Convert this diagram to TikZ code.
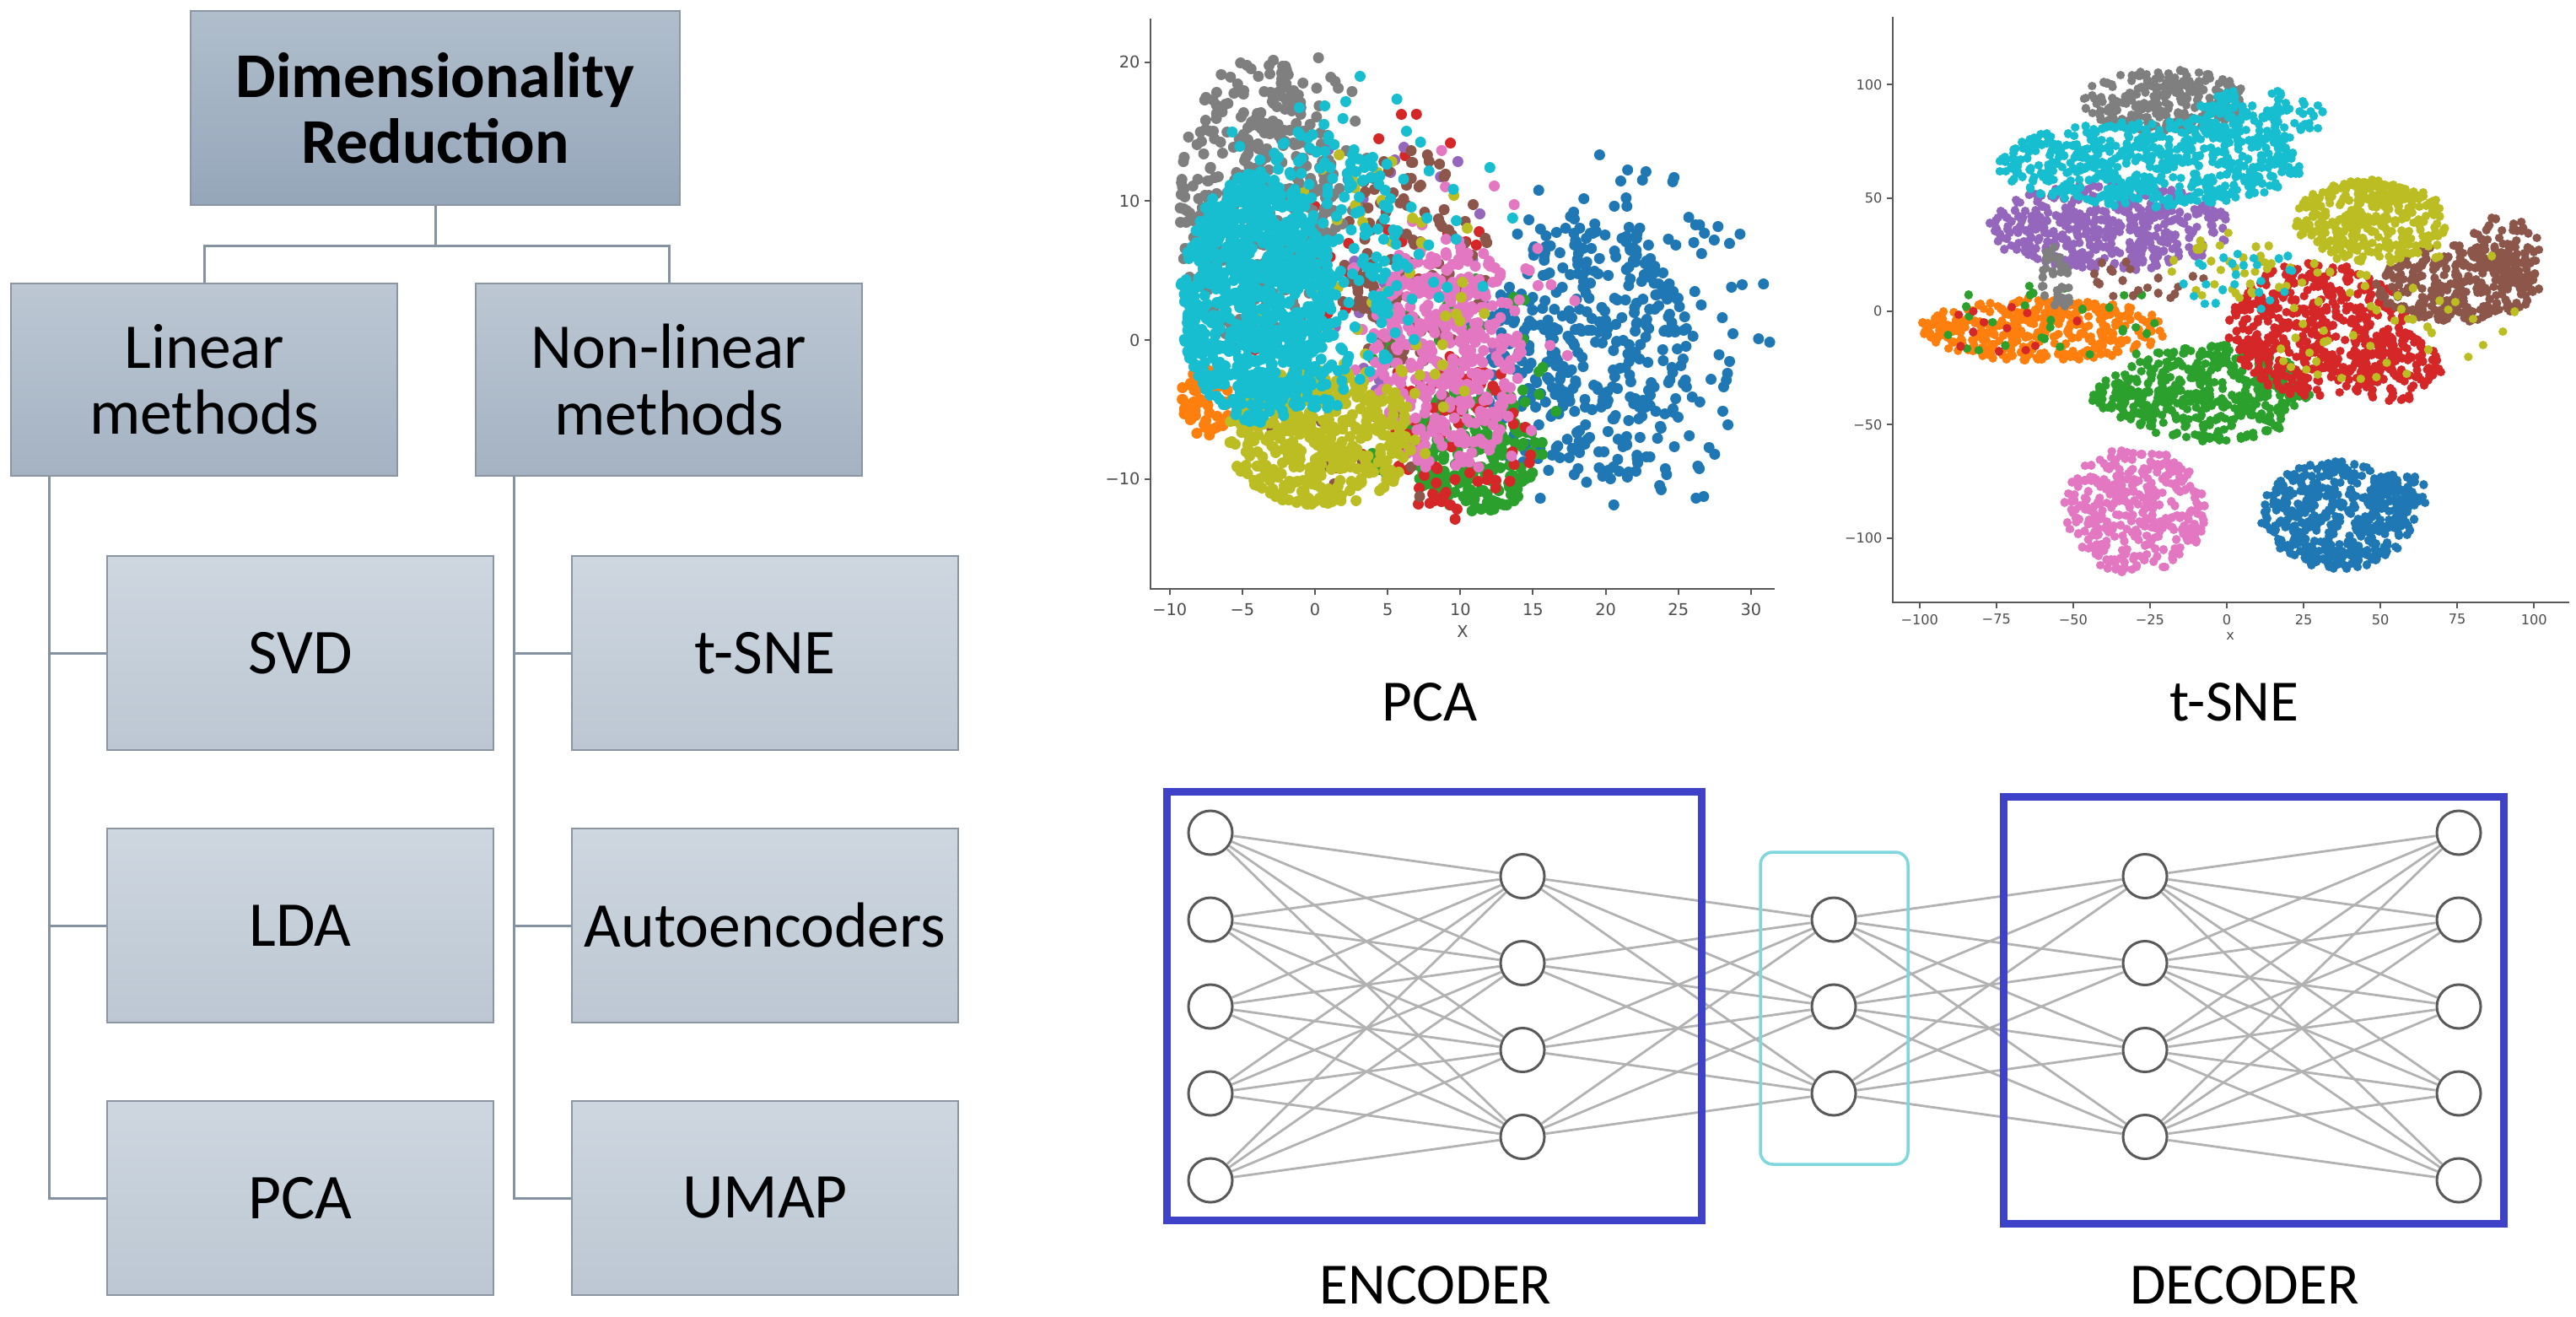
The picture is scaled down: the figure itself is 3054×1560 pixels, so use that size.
\documentclass[tikz,border=0pt]{standalone}
\usepackage{fontspec}
\setmainfont{Carlito}
\newfontfamily\plotfont{DejaVu Sans}
\usepackage{tikz}
\usetikzlibrary{calc}

\definecolor{tabblue}{HTML}{1F77B4}
\definecolor{taborange}{HTML}{FF7F0E}
\definecolor{tabgreen}{HTML}{2CA02C}
\definecolor{tabred}{HTML}{D62728}
\definecolor{tabpurple}{HTML}{9467BD}
\definecolor{tabbrown}{HTML}{8C564B}
\definecolor{tabpink}{HTML}{E377C2}
\definecolor{tabgray}{HTML}{7F7F7F}
\definecolor{tabolive}{HTML}{BCBD22}
\definecolor{tabcyan}{HTML}{17BECF}
\definecolor{boxline}{RGB}{140,150,162}
\definecolor{branchline}{RGB}{132,146,162}
\definecolor{codeblue}{RGB}{62,66,200}
\definecolor{latentcyan}{RGB}{126,214,222}

\newcommand{\treefont}{\fontsize{21.5}{22.2}\selectfont}
% n dots spread over an ellipse: n, cx, cy, rx, ry, colour, dot diameter
\newcommand{\scatterblob}[7]{%
  \draw[#6, line width=#7, line cap=round]
    \foreach \k [evaluate=\k as \pa using 360*rnd, evaluate=\k as \pr using sqrt(rnd)] in {1,...,#1}
      { ({#2+#4*\pr*cos(\pa)},{#3+#5*\pr*sin(\pa)}) -- ++(0.001,0) };}

\tikzset{topbox/.style = {draw=boxline, line width=0.02cm, top color={rgb,255:red,176;green,190;blue,204},
    bottom color={rgb,255:red,150;green,166;blue,186}, minimum width=5.8cm, minimum height=2.3cm,
    align=center, font=\treefont\bfseries}}
\tikzset{catbox/.style = {draw=boxline, line width=0.02cm, top color={rgb,255:red,188;green,199;blue,211},
    bottom color={rgb,255:red,164;green,178;blue,194}, minimum width=4.58cm, minimum height=2.27cm,
    align=center, font=\treefont}}
\tikzset{leafbox/.style = {draw=boxline, line width=0.02cm, top color={rgb,255:red,206;green,215;blue,224},
    bottom color={rgb,255:red,188;green,199;blue,211}, minimum width=4.58cm, minimum height=2.3cm,
    inner sep=0.05cm, font=\treefont}}
\tikzset{branch/.style = {draw=branchline, line width=0.03cm}}
\tikzset{neuron/.style = {shape=circle, draw=black!65, line width=0.03cm, fill=white, minimum size=0.52cm, inner sep=0pt}}
\tikzset{link/.style = {draw=black!30, line width=0.028cm}}
\tikzset{codebox/.style = {draw=codeblue, line width=0.09cm}}
\tikzset{latentbox/.style = {draw=latentcyan, line width=0.035cm, rounded corners=0.15cm}}
\tikzset{caption/.style = {font=\fontsize{19.7}{22}\selectfont}}
\tikzset{spine/.style = {draw=black!65, line width=0.02cm}}
\tikzset{ticklabel/.style = {font=\plotfont\fontsize{5.5}{6}\selectfont, text=black!70, inner sep=1pt}}
\tikzset{smalltick/.style = {font=\plotfont\fontsize{4.6}{5}\selectfont, text=black!70, inner sep=1pt}}

\begin{document}
\begin{tikzpicture}[x=0.01cm, y=-0.01cm]
  \useasboundingbox (0,0) rectangle (3054,1560);
  \pgfmathsetseed{7}

  % method tree
  \node[topbox] (dr) at (516,128) {Dimensionality\\Reduction};
  \node[catbox] (lin) at (242,450) {Linear\\methods};
  \node[catbox] (nonlin) at (793,450) {Non-linear\\methods};
  \foreach \name/\txt/\y in {svd/SVD/774, lda/LDA/1097, pcam/PCA/1420}
    \node[leafbox] (\name) at (356,\y) {\txt};
  \foreach \name/\txt/\y in {tsnem/t-SNE/774, ae/Autoencoders/1097, umap/UMAP/1420}
    \node[leafbox] (\name) at (907,\y) {\txt};

  \draw[branch] (dr.south) -- ++(0,47) -| (lin.north);
  \draw[branch] (dr.south) -- ++(0,47) -| (nonlin.north);
  \foreach \leaf in {svd,lda,pcam}
    \draw[branch] ($(lin.south west)+(47,0)$) |- (\leaf.west);
  \foreach \leaf in {tsnem,ae,umap}
    \draw[branch] ($(nonlin.south west)+(47,0)$) |- (\leaf.west);

  % PCA scatter
  \begin{scope}[shift={(1559,403)}, x=0.1722cm, y=0.1645cm]
    \scatterblob{320}{19}{-1}{7}{9.5}{tabblue}{0.13cm}
    \scatterblob{110}{21}{0}{10.5}{13.5}{tabblue}{0.13cm}
    \scatterblob{35}{25}{1}{5}{11}{tabblue}{0.13cm}
    \scatterblob{60}{-7.5}{-4.5}{1.8}{2.5}{taborange}{0.13cm}
    \scatterblob{200}{11}{-8}{4.2}{4.8}{tabgreen}{0.13cm}
    \scatterblob{50}{10}{-4}{7}{9}{tabgreen}{0.13cm}
    \scatterblob{70}{10}{-7}{5}{6}{tabred}{0.13cm}
    \scatterblob{35}{5}{3}{10}{14}{tabred}{0.13cm}
    \scatterblob{35}{5}{5}{9}{10}{tabpurple}{0.13cm}
    \scatterblob{130}{7}{6}{5}{8}{tabbrown}{0.13cm}
    \scatterblob{30}{3}{-5}{8}{9}{tabbrown}{0.13cm}
    \scatterblob{380}{9}{-1}{5.2}{8.5}{tabpink}{0.13cm}
    \scatterblob{45}{10}{2}{8}{12}{tabpink}{0.13cm}
    \scatterblob{330}{-4}{10}{5.5}{10.5}{tabgray}{0.13cm}
    \scatterblob{60}{-1}{14}{5}{7}{tabgray}{0.13cm}
    \scatterblob{400}{0.5}{-7}{6.5}{5}{tabolive}{0.13cm}
    \scatterblob{70}{4}{2}{8}{12}{tabolive}{0.13cm}
    \scatterblob{800}{-4}{3}{5.3}{9}{tabcyan}{0.13cm}
    \scatterblob{260}{0}{5}{7}{10}{tabcyan}{0.13cm}
    \scatterblob{70}{3}{9}{11}{10}{tabcyan}{0.13cm}

    \draw[spine] (-11.32,23.16) -- (-11.32,-17.93) -- (31.65,-17.93);
    \foreach \t/\l in {-10/−10, -5/−5, 0/0, 5/5, 10/10, 15/15, 20/20, 25/25, 30/30} {
      \draw[spine] (\t,-17.93) -- (\t,-18.35);
      \node[ticklabel] (px\t) at (\t,-19.4) {\l};
    }
    \foreach \t/\l in {-10/−10, 0/0, 10/10, 20/20} {
      \draw[spine] (-11.32,\t) -- (-11.72,\t);
      \node[ticklabel, anchor=east] (py\t) at (-11.8,\t) {\l};
    }
    \node[ticklabel] (pcax) at (10.16,-21.0) {X};
  \end{scope}

  % t-SNE scatter
  \begin{scope}[shift={(2640,369)}, x=0.0364cm, y=0.02685cm]
    \scatterblob{400}{36}{-90}{25}{24}{tabblue}{0.104cm}
    \scatterblob{70}{55}{-80}{12}{8}{tabblue}{0.104cm}
    \scatterblob{380}{-60}{-8}{40}{14}{taborange}{0.104cm}
    \scatterblob{400}{-5}{-36}{32}{22}{tabgreen}{0.104cm}
    \scatterblob{50}{-35}{-38}{10}{10}{tabgreen}{0.104cm}
    \scatterblob{30}{-55}{-5}{40}{18}{tabgreen}{0.104cm}
    \scatterblob{480}{30}{-8}{30}{30}{tabred}{0.104cm}
    \scatterblob{90}{55}{-25}{15}{15}{tabred}{0.104cm}
    \scatterblob{12}{-70}{-8}{25}{10}{tabred}{0.104cm}
    \scatterblob{440}{-38}{37}{40}{19}{tabpurple}{0.104cm}
    \scatterblob{300}{75}{12}{27}{17}{tabbrown}{0.104cm}
    \scatterblob{70}{90}{28}{12}{14}{tabbrown}{0.104cm}
    \scatterblob{20}{-25}{15}{22}{10}{tabbrown}{0.104cm}
    \scatterblob{340}{-30}{-88}{23}{28}{tabpink}{0.104cm}
    \scatterblob{240}{-20}{93}{27}{14}{tabgray}{0.104cm}
    \scatterblob{40}{-55}{15}{6}{14}{tabgray}{0.104cm}
    \scatterblob{320}{47}{40}{25}{18}{tabolive}{0.104cm}
    \scatterblob{70}{45}{5}{50}{35}{tabolive}{0.104cm}
    \scatterblob{25}{0}{20}{20}{15}{tabolive}{0.104cm}
    \scatterblob{560}{-25}{65}{50}{19}{tabcyan}{0.104cm}
    \scatterblob{130}{10}{86}{22}{12}{tabcyan}{0.104cm}
    \scatterblob{25}{5}{15}{20}{15}{tabcyan}{0.104cm}

    \draw[spine] (-108.8,130) -- (-108.8,-128.5) -- (111.5,-128.5);
    \foreach \t/\l in {-100/−100, -75/−75, -50/−50, -25/−25, 0/0, 25/25, 50/50, 75/75, 100/100} {
      \draw[spine] (\t,-128.5) -- (\t,-131);
      \node[smalltick] (tx\t) at (\t,-135.9) {\l};
    }
    \foreach \t/\l in {-100/−100, -50/−50, 0/0, 50/50, 100/100} {
      \draw[spine] (-108.8,\t) -- (-110.6,\t);
      \node[smalltick, anchor=east] (ty\t) at (-111,\t) {\l};
    }
    \node[smalltick] (tsnex) at (1.1,-143.4) {x};
  \end{scope}

  \node[caption] (pcacap) at (1695,832) {PCA};
  \node[caption] (tsnecap) at (2649,832) {t-SNE};

  % autoencoder
  \foreach \i in {1,...,5} \node[neuron] (e\i) at (1435,{1193+(\i-3)*103}) {};
  \foreach \i in {1,...,4} \node[neuron] (h\i) at (1805,{1193+(\i-2.5)*103}) {};
  \foreach \i in {1,...,3} \node[neuron] (z\i) at (2174,{1193+(\i-2)*103}) {};
  \foreach \i in {1,...,4} \node[neuron] (g\i) at (2543,{1193+(\i-2.5)*103}) {};
  \foreach \i in {1,...,5} \node[neuron] (o\i) at (2915,{1193+(\i-3)*103}) {};

  \foreach \i in {1,...,5} \foreach \j in {1,...,4} \draw[link] (e\i) -- (h\j);
  \foreach \i in {1,...,4} \foreach \j in {1,...,3} \draw[link] (h\i) -- (z\j);
  \foreach \i in {1,...,3} \foreach \j in {1,...,4} \draw[link] (z\i) -- (g\j);
  \foreach \i in {1,...,4} \foreach \j in {1,...,5} \draw[link] (g\i) -- (o\j);

  \draw[codebox] (1383,938) rectangle (2017,1446);
  \draw[codebox] (2375,944) rectangle (2968,1450);
  \draw[latentbox] (2087,1010) rectangle (2262,1380);

  \node[caption] (enc) at (1702,1523) {ENCODER};
  \node[caption] (dec) at (2661,1523) {DECODER};
\end{tikzpicture}
\end{document}
